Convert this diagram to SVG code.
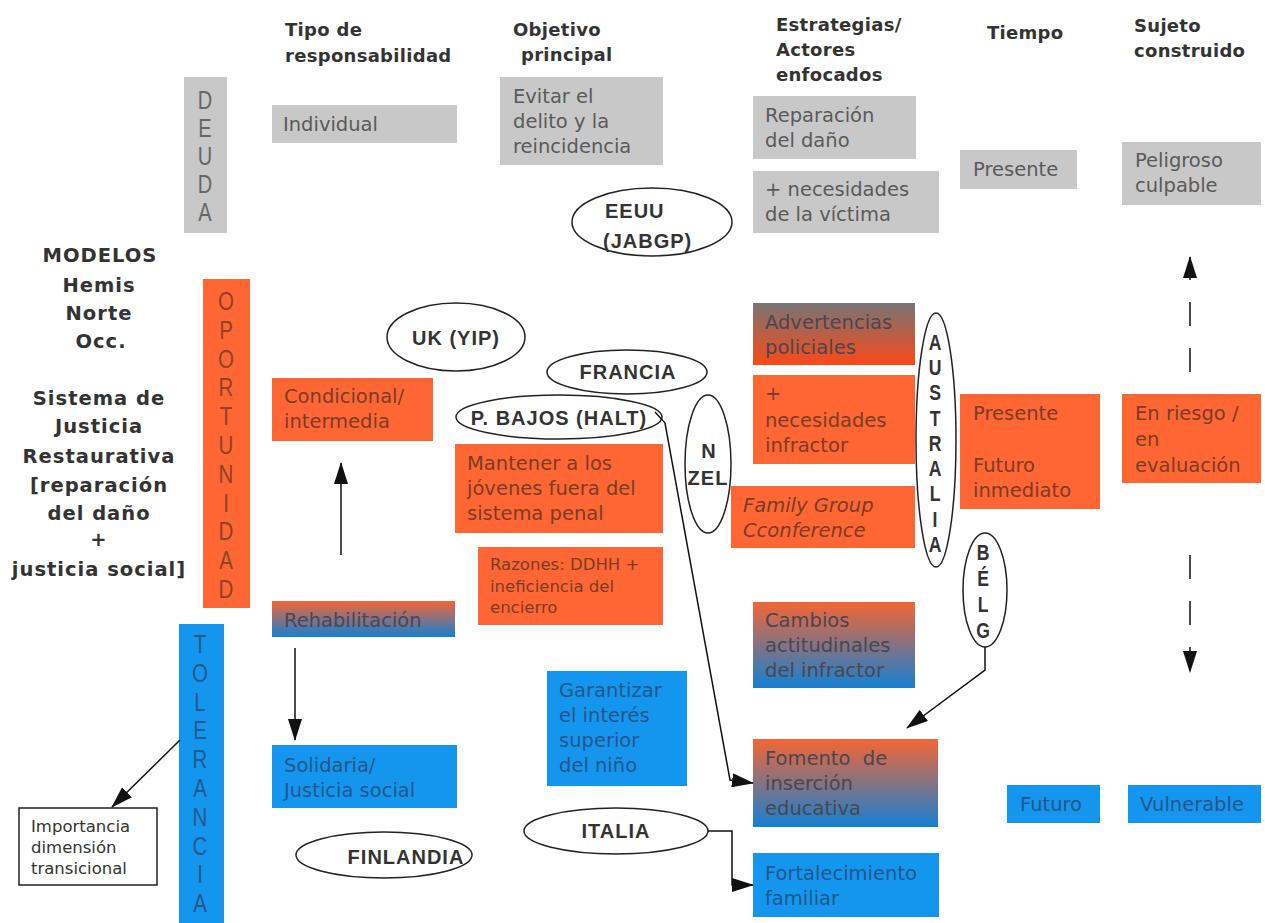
<svg xmlns="http://www.w3.org/2000/svg" width="1265" height="923" viewBox="0 0 1265 923">
<defs>
<linearGradient id="gOB" x1="0" y1="0" x2="0" y2="1"><stop offset="0" stop-color="#f46534"/><stop offset="1" stop-color="#1580d2"/></linearGradient>
<linearGradient id="gGO" x1="0" y1="0" x2="0" y2="1"><stop offset="0" stop-color="#787474"/><stop offset="1" stop-color="#fa4a18"/></linearGradient>
<marker id="ah" viewBox="0 0 22 14" refX="21" refY="7" markerWidth="22" markerHeight="14" markerUnits="userSpaceOnUse" orient="auto"><path d="M0,0 L22,7 L0,14 z" fill="#111"/></marker>
<style>
.hdr{font-family:"DejaVu Sans",sans-serif;font-weight:bold;font-size:18px;fill:#333;letter-spacing:0.3px}
.side{font-family:"DejaVu Sans",sans-serif;font-weight:bold;font-size:19.5px;fill:#333;letter-spacing:1px;text-anchor:middle}
.t{font-family:"DejaVu Sans",sans-serif;font-size:19.5px}
.ts{font-family:"DejaVu Sans",sans-serif;font-size:16.5px}
.tg{fill:#5a5a5a}
.to{fill:#7a3c26}
.tb{fill:#23568c}
.tm{fill:#4a4650}
.gray{fill:#c8c8c8}
.orange{fill:#ff6633}
.blue{fill:#1496ee}
.ell{fill:none;stroke:#222;stroke-width:1.5}
.lbl{font-family:"Liberation Sans",Arial,sans-serif;font-weight:bold;font-size:20px;fill:#333;letter-spacing:1px}
.lblc{text-anchor:middle}
.vl{font-family:"Liberation Sans",Arial,sans-serif;text-anchor:middle}
.vb{font-family:"Liberation Sans",Arial,sans-serif;font-weight:bold;font-size:22px;fill:#333;text-anchor:middle}
.conn{fill:none;stroke:#111;stroke-width:1.5}
</style>
</defs>
<rect width="1265" height="923" fill="#fff"/>

<g id="headers">
<text class="hdr" x="285" y="36">Tipo de</text>
<text class="hdr" x="285" y="62">responsabilidad</text>
<text class="hdr" x="513" y="36">Objetivo</text>
<text class="hdr" x="521" y="61">principal</text>
<text class="hdr" x="776" y="31">Estrategias/</text>
<text class="hdr" x="776" y="56">Actores</text>
<text class="hdr" x="776" y="81">enfocados</text>
<text class="hdr" x="987" y="39">Tiempo</text>
<text class="hdr" x="1134" y="32">Sujeto</text>
<text class="hdr" x="1134" y="57">construido</text>
</g>

<g id="modelos">
<text class="side" x="100" y="262" letter-spacing="2.5">MODELOS</text>
<text class="side" x="99" y="292">Hemis</text>
<text class="side" x="99" y="320">Norte</text>
<text class="side" x="101" y="348">Occ.</text>
<text class="side" x="99" y="405">Sistema de</text>
<text class="side" x="99" y="433">Justicia</text>
<text class="side" x="99" y="463">Restaurativa</text>
<text class="side" x="99" y="492">[reparación</text>
<text class="side" x="99" y="520">del daño</text>
<text class="side" x="99" y="546">+</text>
<text class="side" x="99" y="576">justicia social]</text>
</g>

<g id="deuda">
<rect class="gray" x="184" y="77" width="43" height="156"/>
<text class="vl" font-size="25" fill="#666" transform="translate(205 0) scale(0.8 1)"><tspan x="0" y="109">D</tspan><tspan x="0" y="137">E</tspan><tspan x="0" y="165">U</tspan><tspan x="0" y="193">D</tspan><tspan x="0" y="221">A</tspan></text>
</g>

<g id="oportunidad">
<rect class="orange" x="203" y="279" width="47" height="329"/>
<text class="vl" font-size="25" fill="#8a4428" transform="translate(226 0) scale(0.82 1)"><tspan x="0" y="310">O</tspan><tspan x="0" y="338.8">P</tspan><tspan x="0" y="367.6">O</tspan><tspan x="0" y="396.4">R</tspan><tspan x="0" y="425.2">T</tspan><tspan x="0" y="454">U</tspan><tspan x="0" y="482.8">N</tspan><tspan x="0" y="511.6">I</tspan><tspan x="0" y="540.4">D</tspan><tspan x="0" y="569.2">A</tspan><tspan x="0" y="598">D</tspan></text>
</g>

<g id="tolerancia">
<rect class="blue" x="179" y="624" width="45" height="299"/>
<text class="vl" font-size="25" fill="#24598e" transform="translate(200 0) scale(0.82 1)"><tspan x="0" y="653">T</tspan><tspan x="0" y="681.8">O</tspan><tspan x="0" y="710.6">L</tspan><tspan x="0" y="739.4">E</tspan><tspan x="0" y="768.2">R</tspan><tspan x="0" y="797">A</tspan><tspan x="0" y="825.8">N</tspan><tspan x="0" y="854.6">C</tspan><tspan x="0" y="883.4">I</tspan><tspan x="0" y="912.2">A</tspan></text>
</g>

<g id="individual">
<rect class="gray" x="272" y="105" width="185" height="38"/>
<text class="t tg" x="283" y="131">Individual</text>
</g>

<g id="evitar">
<rect class="gray" x="500" y="77" width="163" height="88"/>
<text class="t tg" x="513" y="103">Evitar el</text>
<text class="t tg" x="513" y="128">delito y la</text>
<text class="t tg" x="513" y="153">reincidencia</text>
</g>

<g id="reparacion">
<rect class="gray" x="753" y="96" width="163" height="63"/>
<text class="t tg" x="765" y="122">Reparación</text>
<text class="t tg" x="765" y="147">del daño</text>
</g>

<g id="necesidades-victima">
<rect class="gray" x="753" y="171" width="186" height="62"/>
<text class="t tg" x="765" y="196">+ necesidades</text>
<text class="t tg" x="765" y="221">de la víctima</text>
</g>

<g id="presente-gray">
<rect class="gray" x="960" y="150" width="117" height="39"/>
<text class="t tg" x="973" y="176">Presente</text>
</g>

<g id="peligroso">
<rect class="gray" x="1122" y="142" width="139" height="63"/>
<text class="t tg" x="1135" y="167">Peligroso</text>
<text class="t tg" x="1135" y="192">culpable</text>
</g>

<g id="eeuu">
<ellipse class="ell" cx="652" cy="222" rx="80" ry="34"/>
<text class="lbl" x="605" y="218">EEUU</text>
<text class="lbl" x="603" y="248">(JABGP)</text>
</g>

<g id="uk">
<ellipse class="ell" cx="456" cy="337" rx="69" ry="34"/>
<text class="lbl lblc" x="456" y="345">UK (YIP)</text>
</g>

<g id="francia">
<ellipse class="ell" cx="627" cy="372" rx="80" ry="22"/>
<text class="lbl lblc" x="628" y="379">FRANCIA</text>
</g>

<g id="pbajos">
<ellipse class="ell" cx="559" cy="417" rx="103" ry="22"/>
<text class="lbl lblc" x="559" y="425">P. BAJOS (HALT)</text>
</g>

<g id="condicional">
<rect class="orange" x="272" y="378" width="161" height="63"/>
<text class="t to" x="284" y="403">Condicional/</text>
<text class="t to" x="284" y="428">intermedia</text>
</g>

<g id="mantener">
<rect class="orange" x="455" y="444" width="208" height="89"/>
<text class="t to" x="467" y="470">Mantener a los</text>
<text class="t to" x="467" y="495">jóvenes fuera del</text>
<text class="t to" x="467" y="520">sistema penal</text>
</g>

<g id="razones">
<rect class="orange" x="478" y="547" width="185" height="78"/>
<text class="ts to" x="490" y="570">Razones: DDHH +</text>
<text class="ts to" x="490" y="592">ineficiencia del</text>
<text class="ts to" x="490" y="613">encierro</text>
</g>

<g id="nzel">
<ellipse class="ell" cx="708" cy="464" rx="23" ry="69"/>
<text class="lbl lblc" x="709" y="458" letter-spacing="0">N</text>
<text class="lbl lblc" x="708" y="485" letter-spacing="0">ZEL</text>
</g>

<g id="advertencias">
<rect fill="url(#gGO)" x="753" y="303" width="162" height="62"/>
<text class="t tm" x="765" y="329">Advertencias</text>
<text class="t tm" x="765" y="354">policiales</text>
</g>

<g id="necesidades-infractor">
<rect class="orange" x="753" y="375" width="162" height="89"/>
<text class="t to" x="765" y="400">+</text>
<text class="t to" x="765" y="427">necesidades</text>
<text class="t to" x="765" y="452">infractor</text>
</g>

<g id="family">
<rect class="orange" x="731" y="486" width="184" height="62"/>
<text class="t to" x="743" y="512" font-style="italic">Family Group</text>
<text class="t to" x="743" y="537" font-style="italic">Cconference</text>
</g>

<g id="australia">
<ellipse class="ell" cx="936" cy="440" rx="20" ry="127"/>
<text class="vb" transform="translate(935 0) scale(0.8 1)"><tspan x="0" y="350">A</tspan><tspan x="0" y="375.3">U</tspan><tspan x="0" y="400.5">S</tspan><tspan x="0" y="425.8">T</tspan><tspan x="0" y="451">R</tspan><tspan x="0" y="476.3">A</tspan><tspan x="0" y="501.5">L</tspan><tspan x="0" y="526.8">I</tspan><tspan x="0" y="552">A</tspan></text>
</g>

<g id="presente-futuro">
<rect class="orange" x="960" y="394" width="140" height="115"/>
<text class="t to" x="973" y="420">Presente</text>
<text class="t to" x="973" y="472">Futuro</text>
<text class="t to" x="973" y="497">inmediato</text>
</g>

<g id="en-riesgo">
<rect class="orange" x="1122" y="394" width="139" height="89"/>
<text class="t to" x="1135" y="420">En riesgo /</text>
<text class="t to" x="1135" y="446">en</text>
<text class="t to" x="1135" y="472">evaluación</text>
</g>

<g id="rehabilitacion">
<rect fill="url(#gOB)" x="272" y="601" width="183" height="36"/>
<text class="t tm" x="284" y="627">Rehabilitación</text>
</g>

<g id="cambios">
<rect fill="url(#gOB)" x="753" y="602" width="162" height="86"/>
<text class="t tm" x="765" y="627">Cambios</text>
<text class="t tm" x="765" y="652">actitudinales</text>
<text class="t tm" x="765" y="677">del infractor</text>
</g>

<g id="belg">
<ellipse class="ell" cx="985" cy="590" rx="22" ry="57"/>
<text class="vb" transform="translate(983 0) scale(0.8 1)"><tspan x="0" y="560">B</tspan><tspan x="0" y="586">É</tspan><tspan x="0" y="612">L</tspan><tspan x="0" y="638">G</tspan></text>
</g>

<g id="garantizar">
<rect class="blue" x="547" y="671" width="140" height="115"/>
<text class="t tb" x="559" y="697">Garantizar</text>
<text class="t tb" x="559" y="722">el interés</text>
<text class="t tb" x="559" y="747">superior</text>
<text class="t tb" x="559" y="772">del niño</text>
</g>

<g id="solidaria">
<rect class="blue" x="272" y="745" width="185" height="63"/>
<text class="t tb" x="284" y="772">Solidaria/</text>
<text class="t tb" x="284" y="797">Justicia social</text>
</g>

<g id="importancia">
<rect x="19" y="808" width="138" height="77" fill="#fff" stroke="#222" stroke-width="1.5"/>
<text class="ts" fill="#333" x="31" y="832">Importancia</text>
<text class="ts" fill="#333" x="31" y="853">dimensión</text>
<text class="ts" fill="#333" x="31" y="874">transicional</text>
</g>

<g id="finlandia">
<ellipse class="ell" cx="384" cy="855" rx="88" ry="23"/>
<text class="lbl lblc" x="406" y="864">FINLANDIA</text>
</g>

<g id="fomento">
<rect fill="url(#gOB)" x="753" y="739" width="185" height="88"/>
<text class="t tm" x="765" y="765" xml:space="preserve">Fomento  de</text>
<text class="t tm" x="765" y="790">inserción</text>
<text class="t tm" x="765" y="815">educativa</text>
</g>

<g id="italia">
<ellipse class="ell" cx="616" cy="831" rx="92" ry="23"/>
<text class="lbl lblc" x="616" y="838">ITALIA</text>
</g>

<g id="fortalecimiento">
<rect class="blue" x="753" y="853" width="186" height="64"/>
<text class="t tb" x="765" y="880">Fortalecimiento</text>
<text class="t tb" x="765" y="905">familiar</text>
</g>

<g id="futuro">
<rect class="blue" x="1007" y="785" width="93" height="38"/>
<text class="t tb" x="1020" y="811">Futuro</text>
</g>

<g id="vulnerable">
<rect class="blue" x="1128" y="785" width="133" height="38"/>
<text class="t tb" x="1140" y="811">Vulnerable</text>
</g>

<g id="connectors">
<path class="conn" d="M341 555 L341 463" marker-end="url(#ah)"/>
<path class="conn" d="M295 648 L295 740" marker-end="url(#ah)"/>
<path class="conn" d="M180 740 L112 807" marker-end="url(#ah)"/>
<path class="conn" d="M655 412 L665 423 L730 780 L753 783" marker-end="url(#ah)"/>
<path class="conn" d="M985 647 L985 670 L907 728" marker-end="url(#ah)"/>
<path class="conn" d="M708 831 L732 831 L732 885 L753 885" marker-end="url(#ah)"/>
<path class="conn" d="M1190 372 L1190 257" stroke-width="2" stroke-dasharray="24 22" marker-end="url(#ah)"/>
<path class="conn" d="M1190 555 L1190 672" stroke-width="2" stroke-dasharray="24 22" marker-end="url(#ah)"/>
</g>
</svg>
